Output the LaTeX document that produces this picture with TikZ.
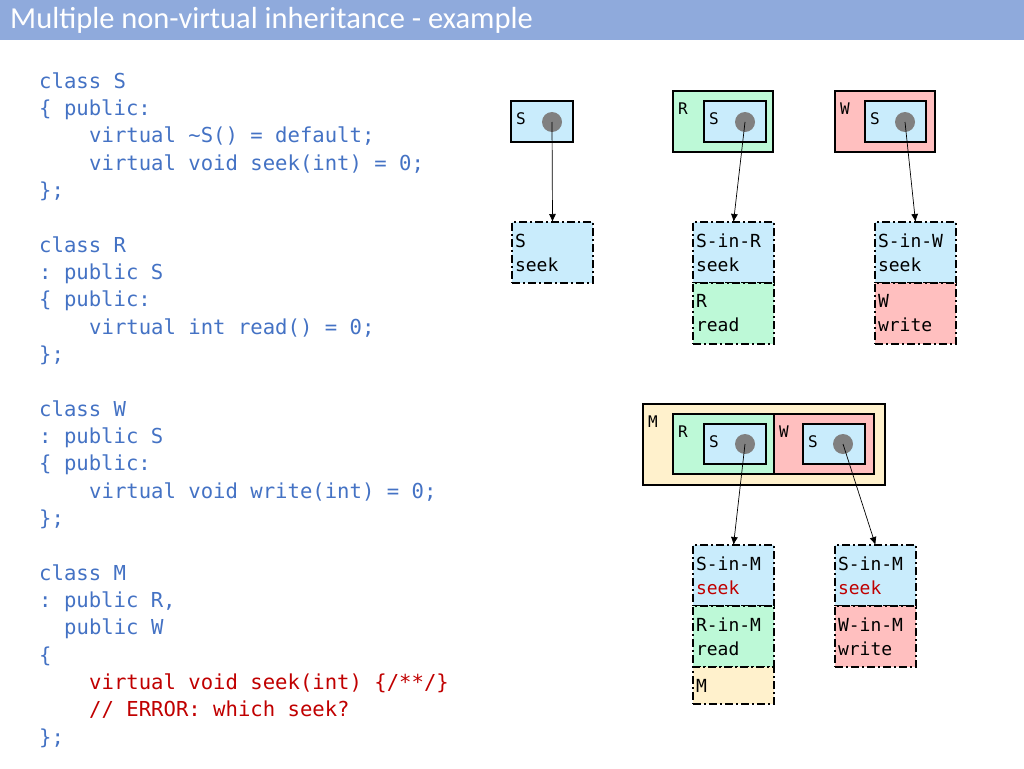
\documentclass[tikz,border=0pt]{standalone}
\usepackage{fontspec}
\setmainfont{Carlito}
\setmonofont{DejaVu Sans Mono}
\usepackage{tikz}
\usetikzlibrary{arrows.meta}

\definecolor{titlebar}{HTML}{8FAADC}
\definecolor{codeblue}{HTML}{4472C4}
\definecolor{codered}{HTML}{C00000}
\definecolor{sblue}{HTML}{C9ECFC}
\definecolor{rgreen}{HTML}{BDF9D7}
\definecolor{wpink}{HTML}{FFBFBF}
\definecolor{morange}{HTML}{FFF1CC}

\tikzset{
  code/.style={anchor=base west, inner sep=0pt, text=codeblue, font=\ttfamily\fontsize{20.6}{24}\selectfont},
  codeerr/.style={code, text=codered},
  objbox/.style={draw, line width=2pt, inner sep=0pt, outer sep=0pt},
  objlabel/.style={anchor=base west, inner sep=0pt, font=\ttfamily\fontsize{16}{18}\selectfont},
  vptr/.style={circle, fill=gray, minimum size=20pt, inner sep=0pt},
  cell/.style={draw, line width=2pt, dash pattern=on 8pt off 3pt on 2pt off 3pt, anchor=north west,
    minimum width=81pt, minimum height=61pt, text width=75pt, inner xsep=3pt, inner ysep=0pt, outer sep=0pt,
    align=left, font=\ttfamily\fontsize{18}{24}\selectfont},
  link/.style={-{Latex[length=8pt,width=7pt]}, line width=0.7pt}
}

\begin{document}
\begin{tikzpicture}[x=1pt, y=-1pt]
\useasboundingbox (0,0) rectangle (1024,768);
\fill[titlebar] (0,0) rectangle (1024,40);
\node[anchor=base west, inner sep=0pt, text=white, font=\fontsize{30.5}{32}\selectfont] (title) at (10,29) {Multiple non-virtual inheritance - example};

\node[code] (c1) at (39,88) {class S};
\node[code] (c2) at (39,115.3) {\{ public:};
\node[code] (c3) at (89,142.7) {virtual \textasciitilde S() = default;};
\node[code] (c4) at (89,170) {virtual void seek(int) = 0;};
\node[code] (c5) at (39,197.3) {\};};

\node[code] (c6) at (39,252) {class R};
\node[code] (c7) at (39,279.3) {: public S};
\node[code] (c8) at (39,306.7) {\{ public:};
\node[code] (c9) at (89,334) {virtual int read() = 0;};
\node[code] (c10) at (39,361.3) {\};};

\node[code] (c11) at (39,416) {class W};
\node[code] (c12) at (39,443.3) {: public S};
\node[code] (c13) at (39,470.7) {\{ public:};
\node[code] (c14) at (89,498) {virtual void write(int) = 0;};
\node[code] (c15) at (39,525.3) {\};};

\node[code] (c16) at (39,580) {class M};
\node[code] (c17) at (39,607.3) {: public R,};
\node[code] (c18) at (64,634.7) {public W};
\node[code] (c19) at (39,662) {\{};
\node[codeerr] (c20) at (89,689.3) {virtual void seek(int) \{/**/\}};
\node[codeerr] (c21) at (89,716.7) {// ERROR: which seek?};
\node[code] (c22) at (39,744) {\};};

\draw[objbox, fill=sblue] (511,101) rectangle (573,142);
\node[objlabel] (lS) at (516,124) {S};
\node[vptr] (pS) at (552,122) {};

\draw[objbox, fill=rgreen] (673,91) rectangle (773,152);
\node[objlabel] (lR) at (678,114) {R};
\draw[objbox, fill=sblue] (704,101) rectangle (766,142);
\node[objlabel] (lRS) at (709,124) {S};
\node[vptr] (pR) at (745,122) {};

\draw[objbox, fill=wpink] (835,91) rectangle (935,152);
\node[objlabel] (lW) at (840,114) {W};
\draw[objbox, fill=sblue] (865,101) rectangle (926,142);
\node[objlabel] (lWS) at (870,124) {S};
\node[vptr] (pW) at (905,122) {};

\node[cell, fill=sblue] (tS) at (512,222) {S\\seek};

\node[cell, fill=sblue] (tRS) at (693,222) {S-in-R\\seek};
\node[cell, fill=rgreen] (tR) at (693,283) {R\\read};

\node[cell, fill=sblue] (tWS) at (875,222) {S-in-W\\seek};
\node[cell, fill=wpink] (tW) at (875,283) {W\\write};

\draw[objbox, fill=morange] (643,404) rectangle (885,485);
\node[objlabel] (lM) at (648,427) {M};
\draw[objbox, fill=rgreen] (673,414) rectangle (774,474);
\node[objlabel] (lMR) at (678,437) {R};
\draw[objbox, fill=sblue] (704,424) rectangle (766,464);
\node[objlabel] (lMRS) at (709,447) {S};
\node[vptr] (pMR) at (745,444) {};
\draw[objbox, fill=wpink] (774,414) rectangle (874,474);
\node[objlabel] (lMW) at (779,437) {W};
\draw[objbox, fill=sblue] (803,424) rectangle (865,464);
\node[objlabel] (lMWS) at (808,447) {S};
\node[vptr] (pMW) at (843,444) {};

\node[cell, fill=sblue] (tMRS) at (693,545) {S-in-M\\\textcolor{codered}{seek}};
\node[cell, fill=rgreen] (tMR) at (693,606) {R-in-M\\read};
\node[cell, fill=morange, minimum height=37pt] (tM) at (693,667) {M};

\node[cell, fill=sblue] (tMWS) at (835,545) {S-in-M\\\textcolor{codered}{seek}};
\node[cell, fill=wpink] (tMW) at (835,606) {W-in-M\\write};

\draw[link] (pS.center) -- (tS.north);
\draw[link] (pR.center) -- (tRS.north);
\draw[link] (pW.center) -- (tWS.north);
\draw[link] (pMR.center) -- (tMRS.north);
\draw[link] (pMW.center) -- (tMWS.north);
\end{tikzpicture}
\end{document}
